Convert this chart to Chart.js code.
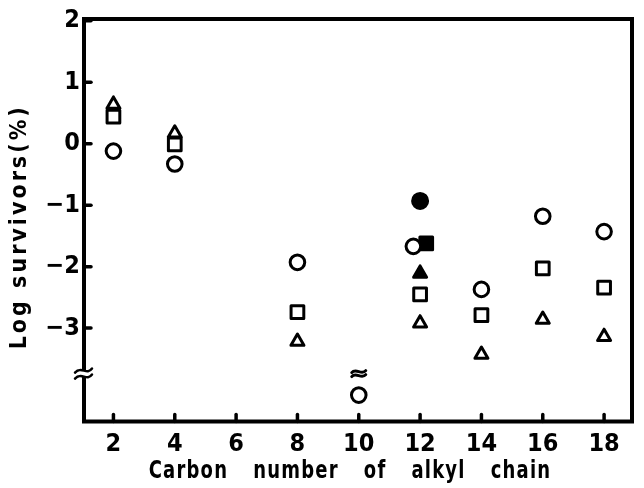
<!DOCTYPE html>
<html><head><meta charset="utf-8">
<script src="https://cdn.jsdelivr.net/npm/chart.js@4/dist/chart.umd.min.js"></script>
<style>html,body{margin:0;padding:0;background:#fff}#wrap{width:644px;height:488px;position:relative}</style>
</head><body><div id="wrap"><canvas id="c"></canvas></div>
<script>
// ---- data ----
const xTickValues = [2, 4, 6, 8, 10, 12, 14, 16, 18];
const yTickValues = [2, 1, 0, -1, -2, -3];
const xTitle = 'Carbon number of alkyl chain';
const yTitle = 'Log survivors(%)';

const openCircleX = [2, 4, 8, 10, 11.78, 14, 16, 18];
const openCircleY = [-0.12, -0.33, -1.93, -4.09, -1.67, -2.37, -1.18, -1.43];
const openSquareX = [2, 4, 8, 12, 14, 16, 18];
const openSquareY = [0.44, -0.01, -2.74, -2.45, -2.79, -2.03, -2.34];
const openTriangleX = [2, 4, 8, 12, 14, 16, 18];
const openTriangleY = [0.64, 0.17, -3.22, -2.92, -3.43, -2.86, -3.14];
const filledCircleX = [12];
const filledCircleY = [-0.93];
const filledSquareX = [12.2];
const filledSquareY = [-1.62];
const filledTriangleX = [12];
const filledTriangleY = [-2.11];

const axisBreakY = -3.74;   // break on the y axis
const dataBreakX = 10;      // break mark above the C10 point
const dataBreakY = -3.74;

const pts = (xs, ys) => xs.map((x, i) => ({x, y: ys[i]}));

// ---- styling ----
const FONT = "'DejaVu Sans Condensed', 'DejaVu Sans', sans-serif";

// letter / word spacing and slight narrowing for the axis titles
const _drawTitle = Chart.Scale.prototype.drawTitle;
Chart.Scale.prototype.drawTitle = function () {
  const c = this.ctx;
  c.save();
  if (this.id === 'x') {
    const cx = (this.left + this.right) / 2;
    c.translate(cx - 8, 0);
    c.scale(0.8, 1);
    c.translate(-cx, 0);
    c.letterSpacing = '1.5px';
    c.wordSpacing = '22px';
  } else {
    c.translate(0, 6.5);
    c.letterSpacing = '3px';
  }
  _drawTitle.apply(this, arguments);
  c.restore();
};

const framePlugin = {
  id: 'frame',
  beforeDatasetsDraw(chart) { chart.ctx.lineJoin = 'round'; },
  afterDraw(chart) {
    const {ctx, chartArea: a, scales: {x, y}} = chart;
    ctx.save();
    ctx.strokeStyle = '#000';
    ctx.lineWidth = 4;
    ctx.lineJoin = 'miter';
    ctx.strokeRect(a.left, a.top, a.right - a.left, a.bottom - a.top);
    ctx.lineWidth = 3.5;
    ctx.lineCap = 'round';
    x.ticks.forEach(t => {
      const px = x.getPixelForValue(t.value);
      ctx.beginPath(); ctx.moveTo(px, a.bottom); ctx.lineTo(px, a.bottom - 7); ctx.stroke();
    });
    y.ticks.forEach(t => {
      const py = y.getPixelForValue(t.value);
      ctx.beginPath(); ctx.moveTo(a.left, py); ctx.lineTo(a.left + 7, py); ctx.stroke();
    });
    // axis break
    const by = y.getPixelForValue(axisBreakY);
    ctx.fillStyle = '#fff';
    ctx.fillRect(a.left - 4, by - 3, 8, 6);
    ctx.lineWidth = 2.5;
    [-3, 3].forEach(dy => {
      ctx.beginPath();
      ctx.moveTo(a.left - 9, by + dy + 2);
      ctx.bezierCurveTo(a.left - 3, by + dy - 5, a.left + 3, by + dy + 5, a.left + 8, by + dy - 2);
      ctx.stroke();
    });
    // data break mark
    const bx = x.getPixelForValue(dataBreakX);
    const dby = y.getPixelForValue(dataBreakY);
    ctx.lineWidth = 3;
    [-2, 2].forEach(dy => {
      ctx.beginPath();
      ctx.moveTo(bx - 7, dby + dy + 1);
      ctx.bezierCurveTo(bx - 3, dby + dy - 4, bx + 3, dby + dy + 4, bx + 7, dby + dy - 1);
      ctx.stroke();
    });
    ctx.restore();
  }
};

const base = {borderColor: '#000', pointBorderWidth: 3, showLine: false};
const minus = v => (v < 0 ? '\u2212' + Math.abs(v) : String(v));

new Chart(document.getElementById('c'), {
  type: 'scatter',
  data: {
    datasets: [
      {...base, label: 'open circle', data: pts(openCircleX, openCircleY), pointStyle: 'circle', pointRadius: 7.3, backgroundColor: '#fff'},
      {...base, label: 'open square', data: pts(openSquareX, openSquareY), pointStyle: 'rect', pointRadius: 9, backgroundColor: '#fff'},
      {...base, label: 'open triangle', data: pts(openTriangleX, openTriangleY), pointStyle: 'triangle', pointRadius: 7.5, backgroundColor: '#fff'},
      {...base, label: 'filled circle', data: pts(filledCircleX, filledCircleY), pointStyle: 'circle', pointRadius: 7.5, backgroundColor: '#000'},
      {...base, label: 'filled square', data: pts(filledSquareX, filledSquareY), pointStyle: 'rect', pointRadius: 9, backgroundColor: '#000'},
      {...base, label: 'filled triangle', data: pts(filledTriangleX, filledTriangleY), pointStyle: 'triangle', pointRadius: 7.5, backgroundColor: '#000'}
    ]
  },
  options: {
    responsive: true,
    maintainAspectRatio: false,
    animation: false,
    events: [],
    layout: {padding: {top: 18, right: 3, left: 0, bottom: 0}},
    plugins: {legend: {display: false}, tooltip: {enabled: false}},
    scales: {
      x: {
        type: 'linear', min: 1.04, max: 18.91,
        afterBuildTicks: s => { s.ticks = xTickValues.map(v => ({value: v})); },
        afterFit: s => { s.height = 66.5; },
        grid: {display: false, drawTicks: false},
        border: {display: false},
        ticks: {color: '#000', padding: 8, maxRotation: 0, font: {family: FONT, size: 25, weight: 'bold'}},
        title: {display: true, text: xTitle, color: '#000', padding: {top: 0, bottom: 2}, font: {family: FONT, size: 25, weight: 'bold'}}
      },
      y: {
        type: 'linear', min: -4.52, max: 2.03,
        afterBuildTicks: s => { s.ticks = yTickValues.map(v => ({value: v})); },
        afterFit: s => { s.width = 84; },
        grid: {display: false, drawTicks: false},
        border: {display: false},
        ticks: {color: '#000', padding: 4, font: {family: FONT, size: 25, weight: 'bold'}, callback: v => minus(v)},
        title: {display: true, text: yTitle, color: '#000', padding: {top: 6, bottom: 0}, font: {family: FONT, size: 23, weight: 'bold'}}
      }
    }
  },
  plugins: [framePlugin]
});
</script>
</body></html>
